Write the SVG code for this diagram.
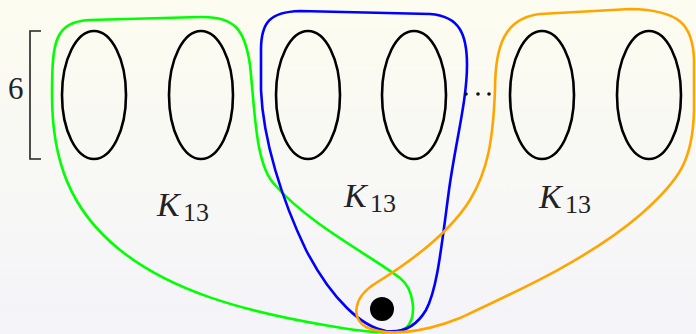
<svg xmlns="http://www.w3.org/2000/svg" width="696" height="334" viewBox="0 0 696 334">
<defs>
<linearGradient id="bg" x1="0" y1="0" x2="0" y2="1">
<stop offset="0" stop-color="#fcfcf0"/>
<stop offset="1" stop-color="#f4f4f9"/>
</linearGradient>
<style>
.part{fill:none;stroke:#000;stroke-width:2.6}
.loop{fill:none;stroke-width:2.6;stroke-linejoin:round}
.k{font-family:"Liberation Serif",serif;font-style:italic;font-size:34px;fill:#222}
.sub{font-family:"Liberation Serif",serif;font-size:26px;fill:#222}
.num{font-family:"Liberation Serif",serif;font-size:31px;fill:#222}
</style>
</defs>
<rect width="696" height="334" fill="url(#bg)"/>
<g id="connectors">
<path id="green" class="loop" stroke="#00ff00" d="M 52,95 C 52,40 55,22 90,20 L 200,17 C 235,16 245,30 250,65 C 255,110 255,165 275,185 C 310,225 370,255 400,278 C 415,290 417,318 406,328 C 395,335 370,333 330,326 C 240,311 170,290 120,250 C 70,210 52,160 52,95 Z"/>
<path id="blue" class="loop" stroke="#0000ff" d="M 261,50 C 261,22 270,12 300,11 L 430,14 C 460,16 467,35 467,65 C 467,100 456,140 449,190 C 441,250 437,290 426,310 C 416,327 402,333 386,331 C 362,327 332,300 306,250 C 282,200 263,140 261,90 Z"/>
<path id="orange" class="loop" stroke="#ffa500" d="M 495,90 C 495,45 505,18 540,14 L 630,9 C 680,10 693,25 694,60 L 694,110 C 693,160 680,180 640,215 C 590,258 520,290 460,318 C 420,334 385,336 366,327 C 351,318 353,297 376,283 C 410,262 450,232 470,200 C 488,170 493,140 495,90 Z"/>
</g>
<g id="bracket">
<path d="M 41,31 L 30,31 L 30,159 L 41,159" fill="none" stroke="#222" stroke-width="1.6"/>
<text class="num" x="8" y="99">6</text>
</g>
<g id="p1"><ellipse class="part" cx="94" cy="95" rx="32" ry="64"/></g>
<g id="p2"><ellipse class="part" cx="201" cy="95" rx="32" ry="64"/></g>
<g id="p3"><ellipse class="part" cx="308" cy="95" rx="32" ry="64"/></g>
<g id="p4"><ellipse class="part" cx="414" cy="95" rx="32" ry="64"/></g>
<g id="p5"><ellipse class="part" cx="542" cy="95" rx="32" ry="64"/></g>
<g id="p6"><ellipse class="part" cx="649" cy="95" rx="32" ry="64"/></g>
<g id="dots" fill="#111">
<circle cx="466" cy="94" r="1.8"/>
<circle cx="478" cy="94" r="1.8"/>
<circle cx="489" cy="94" r="1.8"/>
</g>
<g id="label1"><text class="k" x="157" y="216">K</text><text class="sub" x="183" y="221">13</text></g>
<g id="label2"><text class="k" x="344" y="207">K</text><text class="sub" x="370" y="212">13</text></g>
<g id="label3"><text class="k" x="539" y="208">K</text><text class="sub" x="565" y="213">13</text></g>
<g id="vertex"><circle cx="382" cy="309" r="12" fill="#000"/></g>
</svg>
